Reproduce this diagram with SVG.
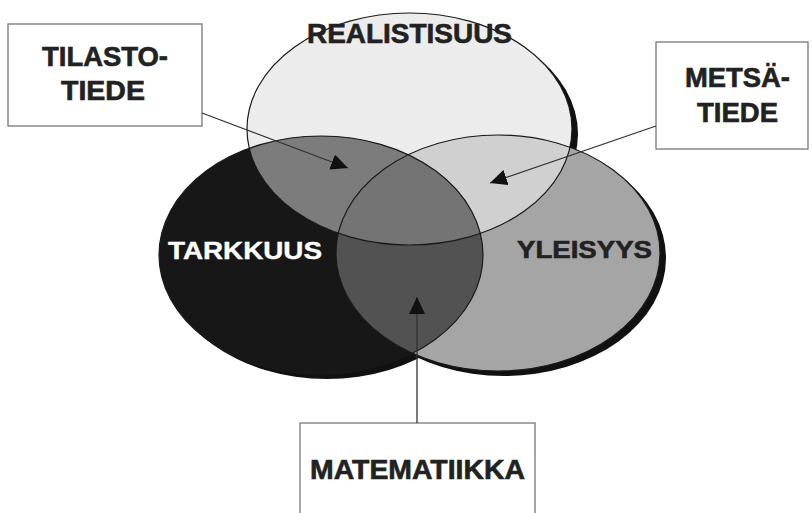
<svg xmlns="http://www.w3.org/2000/svg" width="812" height="513" viewBox="0 0 812 513">
  <style>
    .lbl { font-family: "Liberation Sans", Arial, sans-serif; font-weight: bold; fill: #222; stroke: #222; stroke-width: 0.6; text-anchor: middle; }
    .inv { fill: #ffffff; stroke: #ffffff; stroke-width: 0.4; }
    .box { fill: #ffffff; stroke: #777; stroke-width: 1.3; }
    .edge { fill: none; stroke: #333; stroke-width: 1.3; }
    .outline { fill: none; stroke: #1a1a1a; stroke-width: 1.2; }
    .shadow { fill: #111; }
  </style>
  <defs>
    <ellipse id="eTop" cx="409.5" cy="129" rx="162.5" ry="116"/>
    <ellipse id="eLeft" cx="321" cy="255" rx="162" ry="119"/>
    <ellipse id="eRight" cx="498" cy="253" rx="162" ry="118"/>
    <clipPath id="cTop"><use href="#eTop"/></clipPath>
    <clipPath id="cLeft"><use href="#eLeft"/></clipPath>
    <clipPath id="cRight"><use href="#eRight"/></clipPath>
    <marker id="arrow" markerUnits="userSpaceOnUse" markerWidth="18" markerHeight="16" refX="17" refY="8" orient="auto">
      <path d="M0,0 L17,8 L0,16 z" fill="#111"/>
    </marker>
  </defs>
  <rect width="812" height="513" fill="#ffffff"/>

  <g id="shadows">
    <use href="#eTop" class="shadow" transform="translate(6,5)"/>
    <use href="#eLeft" class="shadow" transform="translate(6,5)"/>
    <use href="#eRight" class="shadow" transform="translate(6,5)"/>
  </g>

  <g id="realistisuus">
    <use href="#eTop" fill="#ececec"/>
  </g>
  <g id="tarkkuus">
    <use href="#eLeft" fill="#171717"/>
  </g>
  <g id="yleisyys">
    <use href="#eRight" fill="#a5a5a5"/>
  </g>

  <g id="overlaps">
    <g clip-path="url(#cTop)"><use href="#eLeft" fill="#7c7c7c"/></g>
    <g clip-path="url(#cTop)"><use href="#eRight" fill="#d0d0d0"/></g>
    <g clip-path="url(#cLeft)"><use href="#eRight" fill="#525252"/></g>
    <g clip-path="url(#cTop)"><g clip-path="url(#cLeft)"><use href="#eRight" fill="#747474"/></g></g>
  </g>

  <g id="outlines">
    <use href="#eTop" class="outline"/>
    <use href="#eLeft" class="outline"/>
    <use href="#eRight" class="outline"/>
  </g>

  <g id="ellipse-labels">
    <text class="lbl" x="409.5" y="43" font-size="27" textLength="205" lengthAdjust="spacingAndGlyphs">REALISTISUUS</text>
    <text class="lbl inv" x="245" y="259" font-size="24" textLength="154" lengthAdjust="spacingAndGlyphs">TARKKUUS</text>
    <text class="lbl" x="584.5" y="258" font-size="24" textLength="135" lengthAdjust="spacingAndGlyphs">YLEISYYS</text>
  </g>

  <g id="tilastotiede">
    <rect class="box" x="8" y="24" width="194" height="102"/>
    <text class="lbl" x="105" y="66" font-size="27" textLength="126" lengthAdjust="spacingAndGlyphs">TILASTO-</text>
    <text class="lbl" x="103" y="100" font-size="27" textLength="84" lengthAdjust="spacingAndGlyphs">TIEDE</text>
  </g>

  <g id="metsatiede">
    <rect class="box" x="656" y="42" width="152" height="107"/>
    <text class="lbl" x="737.5" y="87" font-size="27" textLength="105" lengthAdjust="spacingAndGlyphs">METSÄ-</text>
    <text class="lbl" x="737.5" y="122" font-size="27" textLength="81" lengthAdjust="spacingAndGlyphs">TIEDE</text>
  </g>

  <g id="matematiikka">
    <rect class="box" x="300" y="423" width="235" height="100"/>
    <text class="lbl" x="417.5" y="479" font-size="27" textLength="215" lengthAdjust="spacingAndGlyphs">MATEMATIIKKA</text>
  </g>

  <g id="connectors">
    <path class="edge" d="M202,113 L348,168" marker-end="url(#arrow)"/>
    <path class="edge" d="M656,126 L490,183" marker-end="url(#arrow)"/>
    <path class="edge" d="M417,423 L417,297" marker-end="url(#arrow)"/>
  </g>
</svg>
